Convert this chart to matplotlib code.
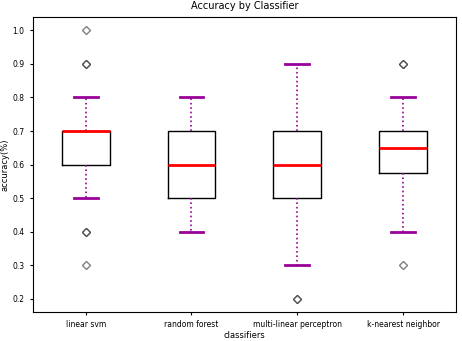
import matplotlib.pyplot as plt

classifiers = ["linear svm", "random forest", "multi-linear perceptron", "k-nearest neighbor"]

linear_svm = [0.3, 0.4, 0.4, 0.5, 0.6, 0.6, 0.6, 0.6, 0.6, 0.7,
              0.7, 0.7, 0.7, 0.7, 0.7, 0.7, 0.8, 0.9, 0.9, 1.0]
random_forest = [0.4, 0.5, 0.5, 0.5, 0.5, 0.5, 0.6, 0.6, 0.6, 0.6,
                 0.6, 0.7, 0.7, 0.7, 0.7, 0.7, 0.7, 0.7, 0.7, 0.8]
mlp = [0.2, 0.2, 0.3, 0.5, 0.5, 0.5, 0.6, 0.6, 0.6, 0.6,
       0.6, 0.7, 0.7, 0.7, 0.7, 0.7, 0.7, 0.7, 0.7, 0.9]
knn = [0.3, 0.4, 0.5, 0.5, 0.5, 0.6, 0.6, 0.6, 0.6, 0.6,
       0.7, 0.7, 0.7, 0.7, 0.7, 0.7, 0.7, 0.8, 0.9, 0.9]

fig = plt.figure(figsize=(4.62, 3.41), dpi=100)
ax = fig.add_axes([0.071, 0.085, 0.916, 0.865])
ax.boxplot([linear_svm, random_forest, mlp, knn],
           boxprops=dict(color="black", linewidth=1),
           medianprops=dict(color="red", linewidth=2),
           whiskerprops=dict(color="#990099", linestyle=":", linewidth=1.2),
           capprops=dict(color="#990099", linewidth=2),
           flierprops=dict(marker="D", markerfacecolor="white", markeredgecolor="black",
                           markersize=4, alpha=0.5))
ax.set_xticks([1, 2, 3, 4])
ax.set_xticklabels(classifiers)
ax.tick_params(labelsize=5.5, length=2.5)
ax.set_title("Accuracy by Classifier", fontsize=7)
ax.set_xlabel("classifiers", fontsize=6, labelpad=1)
ax.set_ylabel("accuracy(%)", fontsize=6, labelpad=2)
fig.savefig("out.png")
